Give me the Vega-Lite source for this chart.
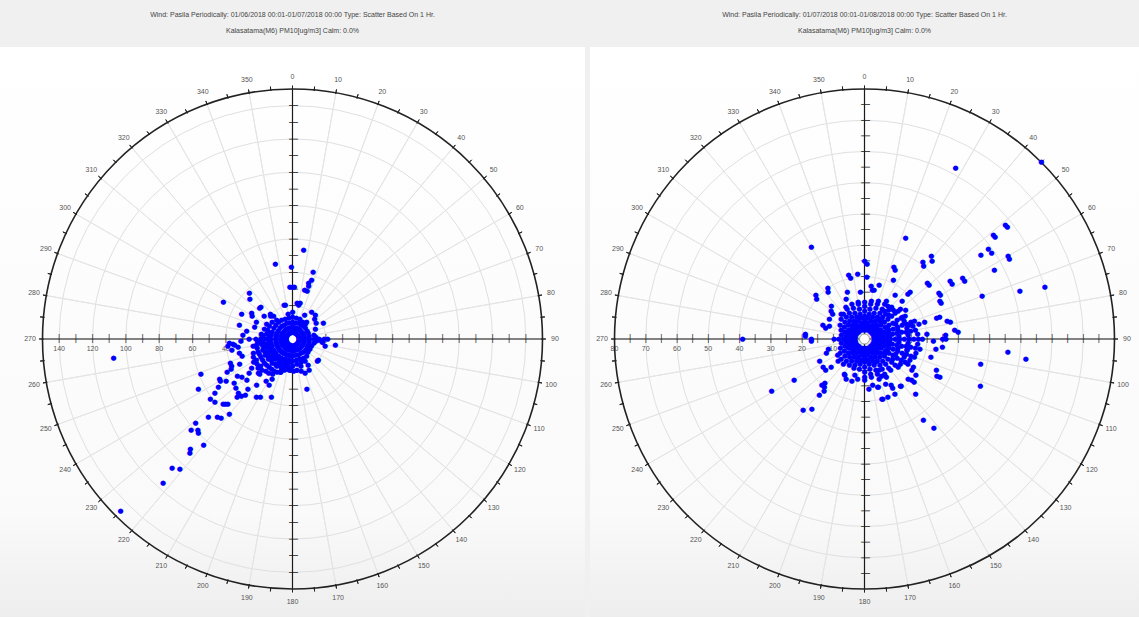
{
"$schema": "https://vega.github.io/schema/vega-lite/v6.json",
"background": "#f0f0f0",
"padding": {"top": 11, "left": 0, "right": 0, "bottom": 0},
"spacing": 5,
"resolve": {"scale": {"theta": "independent", "radius": "independent"}},
"config": {
 "view": {"stroke": null},
 "text": {"font": "Liberation Sans"},
 "title": {"font": "Liberation Sans", "fontSize": 7, "fontWeight": "normal", "color": "#444444", "lineHeight": 16, "offset": 13, "anchor": "middle"}
},
"datasets": {
 "spokes": [{"a":0},{"a":10},{"a":20},{"a":30},{"a":40},{"a":50},{"a":60},{"a":70},{"a":80},{"a":90},{"a":100},{"a":110},{"a":120},{"a":130},{"a":140},{"a":150},{"a":160},{"a":170},{"a":180},{"a":190},{"a":200},{"a":210},{"a":220},{"a":230},{"a":240},{"a":250},{"a":260},{"a":270},{"a":280},{"a":290},{"a":300},{"a":310},{"a":320},{"a":330},{"a":340},{"a":350}],
 "outerTicks": [{"t":0},{"t":5},{"t":10},{"t":15},{"t":20},{"t":25},{"t":30},{"t":35},{"t":40},{"t":45},{"t":50},{"t":55},{"t":60},{"t":65},{"t":70},{"t":75},{"t":80},{"t":85},{"t":90},{"t":95},{"t":100},{"t":105},{"t":110},{"t":115},{"t":120},{"t":125},{"t":130},{"t":135},{"t":140},{"t":145},{"t":150},{"t":155},{"t":160},{"t":165},{"t":170},{"t":175},{"t":180},{"t":185},{"t":190},{"t":195},{"t":200},{"t":205},{"t":210},{"t":215},{"t":220},{"t":225},{"t":230},{"t":235},{"t":240},{"t":245},{"t":250},{"t":255},{"t":260},{"t":265},{"t":270},{"t":275},{"t":280},{"t":285},{"t":290},{"t":295},{"t":300},{"t":305},{"t":310},{"t":315},{"t":320},{"t":325},{"t":330},{"t":335},{"t":340},{"t":345},{"t":350},{"t":355}],
 "crossAxes": [{"a":0},{"a":90},{"a":180},{"a":270}],
 "ringsL": [{"r":20},{"r":40},{"r":60},{"r":80},{"r":100},{"r":120},{"r":140}],
 "ringsR": [{"r":10},{"r":20},{"r":30},{"r":40},{"r":50},{"r":60},{"r":70}],
 "axTicksL": [{"r":-140},{"r":-130},{"r":-120},{"r":-110},{"r":-100},{"r":-90},{"r":-80},{"r":-70},{"r":-60},{"r":-50},{"r":-40},{"r":-30},{"r":-20},{"r":-10},{"r":10},{"r":20},{"r":30},{"r":40},{"r":50},{"r":60},{"r":70},{"r":80},{"r":90},{"r":100},{"r":110},{"r":120},{"r":130},{"r":140}],
 "axTicksR": [{"r":-75},{"r":-70},{"r":-65},{"r":-60},{"r":-55},{"r":-50},{"r":-45},{"r":-40},{"r":-35},{"r":-30},{"r":-25},{"r":-20},{"r":-15},{"r":-10},{"r":-5},{"r":5},{"r":10},{"r":15},{"r":20},{"r":25},{"r":30},{"r":35},{"r":40},{"r":45},{"r":50},{"r":55},{"r":60},{"r":65},{"r":70},{"r":75}],
 "axLabL": [{"r":20},{"r":40},{"r":60},{"r":80},{"r":100},{"r":120},{"r":140}],
 "axLabR": [{"r":10},{"r":20},{"r":30},{"r":40},{"r":50},{"r":60},{"r":70},{"r":80}],
 "L": [
 {"d":0,"v":4},{"d":0,"v":7},{"d":0,"v":10},{"d":0,"v":13},{"d":0,"v":16},
 {"d":10,"v":4},{"d":10,"v":7},{"d":10,"v":10},{"d":10,"v":13},
 {"d":20,"v":4},{"d":20,"v":7},{"d":20,"v":10},{"d":20,"v":13},
 {"d":30,"v":4},{"d":30,"v":7},{"d":30,"v":10},{"d":30,"v":12},
 {"d":40,"v":4},{"d":40,"v":7},{"d":40,"v":10},{"d":40,"v":12},
 {"d":50,"v":4},{"d":50,"v":7},{"d":50,"v":10},
 {"d":60,"v":4},{"d":60,"v":7},{"d":60,"v":10},
 {"d":70,"v":4},{"d":70,"v":7},{"d":70,"v":10},
 {"d":80,"v":4},{"d":80,"v":7},{"d":80,"v":10},{"d":80,"v":13},
 {"d":90,"v":4},{"d":90,"v":7},{"d":90,"v":10},{"d":90,"v":13},{"d":90,"v":16},{"d":90,"v":19},{"d":90,"v":21},
 {"d":100,"v":4},{"d":100,"v":7},{"d":100,"v":10},{"d":100,"v":13},
 {"d":110,"v":4},{"d":110,"v":7},{"d":110,"v":10},{"d":110,"v":12},
 {"d":120,"v":4},{"d":120,"v":7},{"d":120,"v":10},{"d":120,"v":12},
 {"d":130,"v":4},{"d":130,"v":7},{"d":130,"v":10},{"d":130,"v":12},
 {"d":140,"v":4},{"d":140,"v":7},{"d":140,"v":10},{"d":140,"v":13},
 {"d":150,"v":4},{"d":150,"v":7},{"d":150,"v":10},{"d":150,"v":13},{"d":150,"v":15},
 {"d":160,"v":4},{"d":160,"v":7},{"d":160,"v":10},{"d":160,"v":13},{"d":160,"v":15},
 {"d":170,"v":4},{"d":170,"v":7},{"d":170,"v":10},{"d":170,"v":13},{"d":170,"v":15},
 {"d":180,"v":4},{"d":180,"v":7},{"d":180,"v":10},{"d":180,"v":13},{"d":180,"v":16},
 {"d":190,"v":4},{"d":190,"v":7},{"d":190,"v":10},{"d":190,"v":13},{"d":190,"v":16},{"d":190,"v":18},
 {"d":200,"v":4},{"d":200,"v":7},{"d":200,"v":10},{"d":200,"v":13},{"d":200,"v":16},{"d":200,"v":19},{"d":200,"v":21},
 {"d":210,"v":4},{"d":210,"v":7},{"d":210,"v":10},{"d":210,"v":13},{"d":210,"v":16},{"d":210,"v":19},{"d":210,"v":22},{"d":210,"v":24},
 {"d":220,"v":4},{"d":220,"v":7},{"d":220,"v":10},{"d":220,"v":13},{"d":220,"v":16},{"d":220,"v":19},{"d":220,"v":22},{"d":220,"v":25},
 {"d":230,"v":4},{"d":230,"v":7},{"d":230,"v":10},{"d":230,"v":13},{"d":230,"v":16},{"d":230,"v":19},{"d":230,"v":22},{"d":230,"v":25},{"d":230,"v":27},
 {"d":240,"v":4},{"d":240,"v":7},{"d":240,"v":10},{"d":240,"v":13},{"d":240,"v":16},{"d":240,"v":19},{"d":240,"v":22},{"d":240,"v":25},{"d":240,"v":27},
 {"d":250,"v":4},{"d":250,"v":7},{"d":250,"v":10},{"d":250,"v":13},{"d":250,"v":16},{"d":250,"v":19},{"d":250,"v":22},{"d":250,"v":25},
 {"d":260,"v":4},{"d":260,"v":7},{"d":260,"v":10},{"d":260,"v":13},{"d":260,"v":16},{"d":260,"v":19},{"d":260,"v":22},{"d":260,"v":24},
 {"d":270,"v":4},{"d":270,"v":7},{"d":270,"v":10},{"d":270,"v":13},{"d":270,"v":16},{"d":270,"v":19},{"d":270,"v":22},
 {"d":280,"v":4},{"d":280,"v":7},{"d":280,"v":10},{"d":280,"v":13},{"d":280,"v":16},{"d":280,"v":19},
 {"d":290,"v":4},{"d":290,"v":7},{"d":290,"v":10},{"d":290,"v":13},{"d":290,"v":16},{"d":290,"v":18},
 {"d":300,"v":4},{"d":300,"v":7},{"d":300,"v":10},{"d":300,"v":13},{"d":300,"v":16},{"d":300,"v":18},
 {"d":310,"v":4},{"d":310,"v":7},{"d":310,"v":10},{"d":310,"v":13},{"d":310,"v":16},
 {"d":320,"v":4},{"d":320,"v":7},{"d":320,"v":10},{"d":320,"v":13},{"d":320,"v":15},
 {"d":330,"v":4},{"d":330,"v":7},{"d":330,"v":10},{"d":330,"v":13},
 {"d":340,"v":4},{"d":340,"v":7},{"d":340,"v":10},{"d":340,"v":13},
 {"d":350,"v":4},{"d":350,"v":7},{"d":350,"v":10},{"d":350,"v":13},{"d":350,"v":15},
 {"d":185,"v":6},{"d":185,"v":10},{"d":185,"v":14},
 {"d":195,"v":6},{"d":195,"v":10},{"d":195,"v":14},{"d":195,"v":17},
 {"d":205,"v":6},{"d":205,"v":10},{"d":205,"v":14},{"d":205,"v":18},{"d":205,"v":22},
 {"d":215,"v":6},{"d":215,"v":10},{"d":215,"v":14},{"d":215,"v":18},{"d":215,"v":22},{"d":215,"v":25},
 {"d":225,"v":6},{"d":225,"v":10},{"d":225,"v":14},{"d":225,"v":18},{"d":225,"v":22},{"d":225,"v":26},{"d":225,"v":29},
 {"d":235,"v":6},{"d":235,"v":10},{"d":235,"v":14},{"d":235,"v":18},{"d":235,"v":22},{"d":235,"v":26},{"d":235,"v":30},
 {"d":245,"v":6},{"d":245,"v":10},{"d":245,"v":14},{"d":245,"v":18},{"d":245,"v":22},{"d":245,"v":26},
 {"d":255,"v":6},{"d":255,"v":10},{"d":255,"v":14},{"d":255,"v":18},{"d":255,"v":22},
 {"d":265,"v":6},{"d":265,"v":10},{"d":265,"v":14},{"d":265,"v":18},{"d":265,"v":21},
 {"d":275,"v":6},{"d":275,"v":10},{"d":275,"v":14},{"d":275,"v":18},
 {"d":285,"v":6},{"d":285,"v":10},{"d":285,"v":14},
 {"d":95,"v":6},{"d":95,"v":10},{"d":95,"v":14},{"d":95,"v":18},
 {"d":85,"v":6},{"d":85,"v":10},{"d":85,"v":14},
 {"d":264,"v":108},{"d":225,"v":146},{"d":222,"v":116},{"d":223,"v":106},{"d":221,"v":103},{"d":222,"v":92},{"d":223,"v":90},{"d":220,"v":83},{"d":228,"v":82},{"d":226,"v":79},{"d":225,"v":80},{"d":229,"v":77},{"d":227,"v":69},{"d":224,"v":65},{"d":222,"v":64},{"d":220,"v":59},{"d":242,"v":64},{"d":249,"v":59},{"d":234,"v":61},{"d":235,"v":57},{"d":240,"v":50},{"d":237,"v":53},{"d":231,"v":60},{"d":226,"v":56},{"d":225,"v":55},{"d":227,"v":57},{"d":229,"v":45},{"d":225,"v":46},{"d":220,"v":44},{"d":244,"v":41},{"d":249,"v":40},{"d":245,"v":35},{"d":233,"v":38},{"d":266,"v":38},{"d":265,"v":36},{"d":262,"v":33},{"d":260,"v":37},{"d":270,"v":26},
 {"d":7,"v":54},{"d":347,"v":46},{"d":359,"v":43},{"d":17,"v":42},{"d":18,"v":37},{"d":17,"v":33},{"d":17,"v":30},{"d":16,"v":35},{"d":357,"v":31},{"d":0,"v":31},{"d":2,"v":31},{"d":14,"v":30},{"d":346,"v":21},{"d":7,"v":22},{"d":10,"v":21},{"d":12,"v":22},{"d":348,"v":21},{"d":317,"v":38},{"d":298,"v":47},{"d":313,"v":35},{"d":315,"v":27},{"d":318,"v":20},{"d":35,"v":20},{"d":62,"v":21},{"d":56,"v":17},{"d":43,"v":20},{"d":66,"v":15},{"d":47,"v":18},{"d":27,"v":16},{"d":40,"v":13},{"d":98,"v":26},{"d":102,"v":20},{"d":95,"v":18},{"d":92,"v":16},{"d":129,"v":20},{"d":132,"v":20},{"d":164,"v":31},{"d":149,"v":18},{"d":152,"v":21},{"d":163,"v":17},{"d":184,"v":18},{"d":160,"v":22},{"d":165,"v":20},{"d":172,"v":19},{"d":178,"v":19},{"d":186,"v":19},{"d":195,"v":19},{"d":200,"v":21},{"d":207,"v":27},{"d":207,"v":31},{"d":223,"v":29},{"d":246,"v":40},{"d":241,"v":50},{"d":251,"v":32},{"d":264,"v":35},{"d":264,"v":39},{"d":268,"v":31},{"d":228,"v":37},{"d":222,"v":40},{"d":212,"v":41},{"d":224,"v":48},{"d":222,"v":46},{"d":200,"v":37},{"d":209,"v":40},{"d":302,"v":29},{"d":296,"v":34},{"d":313,"v":27},{"d":300,"v":28},{"d":295,"v":24},{"d":288,"v":24},{"d":316,"v":19},{"d":321,"v":18},{"d":309,"v":22},{"d":280,"v":28},{"d":275,"v":30},{"d":285,"v":33},{"d":255,"v":33},{"d":233,"v":44},{"d":238,"v":47},{"d":243,"v":44},{"d":218,"v":35},{"d":212,"v":30},{"d":236,"v":40},{"d":232,"v":33}
 ],
 "R": [
 {"d":0,"v":3},{"d":0,"v":4.5},{"d":0,"v":6},{"d":0,"v":7.5},{"d":0,"v":9},{"d":0,"v":10.5},{"d":0,"v":12},
 {"d":10,"v":3.75},{"d":10,"v":5.25},{"d":10,"v":6.75},{"d":10,"v":8.25},{"d":10,"v":9.75},{"d":10,"v":11.25},{"d":10,"v":12.5},
 {"d":20,"v":3},{"d":20,"v":4.5},{"d":20,"v":6},{"d":20,"v":7.5},{"d":20,"v":9},{"d":20,"v":10.5},{"d":20,"v":12},{"d":20,"v":13},
 {"d":30,"v":3.75},{"d":30,"v":5.25},{"d":30,"v":6.75},{"d":30,"v":8.25},{"d":30,"v":9.75},{"d":30,"v":11.25},{"d":30,"v":12.75},{"d":30,"v":14},
 {"d":40,"v":3},{"d":40,"v":4.5},{"d":40,"v":6},{"d":40,"v":7.5},{"d":40,"v":9},{"d":40,"v":10.5},{"d":40,"v":12},{"d":40,"v":13.5},
 {"d":50,"v":3.75},{"d":50,"v":5.25},{"d":50,"v":6.75},{"d":50,"v":8.25},{"d":50,"v":9.75},{"d":50,"v":11.25},{"d":50,"v":12.75},{"d":50,"v":14},
 {"d":60,"v":3},{"d":60,"v":4.5},{"d":60,"v":6},{"d":60,"v":7.5},{"d":60,"v":9},{"d":60,"v":10.5},{"d":60,"v":12},{"d":60,"v":13.5},{"d":60,"v":15},
 {"d":70,"v":3.75},{"d":70,"v":5.25},{"d":70,"v":6.75},{"d":70,"v":8.25},{"d":70,"v":9.75},{"d":70,"v":11.25},{"d":70,"v":12.75},{"d":70,"v":14.25},{"d":70,"v":15.75},
 {"d":80,"v":3},{"d":80,"v":4.5},{"d":80,"v":6},{"d":80,"v":7.5},{"d":80,"v":9},{"d":80,"v":10.5},{"d":80,"v":12},{"d":80,"v":13.5},{"d":80,"v":15},{"d":80,"v":16.5},
 {"d":90,"v":3.75},{"d":90,"v":5.25},{"d":90,"v":6.75},{"d":90,"v":8.25},{"d":90,"v":9.75},{"d":90,"v":11.25},{"d":90,"v":12.75},{"d":90,"v":14.25},{"d":90,"v":15.75},{"d":90,"v":17.25},{"d":90,"v":18.5},
 {"d":100,"v":3},{"d":100,"v":4.5},{"d":100,"v":6},{"d":100,"v":7.5},{"d":100,"v":9},{"d":100,"v":10.5},{"d":100,"v":12},{"d":100,"v":13.5},{"d":100,"v":15},{"d":100,"v":16.5},{"d":100,"v":18},
 {"d":110,"v":3.75},{"d":110,"v":5.25},{"d":110,"v":6.75},{"d":110,"v":8.25},{"d":110,"v":9.75},{"d":110,"v":11.25},{"d":110,"v":12.75},{"d":110,"v":14.25},{"d":110,"v":15.75},{"d":110,"v":17},
 {"d":120,"v":3},{"d":120,"v":4.5},{"d":120,"v":6},{"d":120,"v":7.5},{"d":120,"v":9},{"d":120,"v":10.5},{"d":120,"v":12},{"d":120,"v":13.5},{"d":120,"v":15},{"d":120,"v":16},
 {"d":130,"v":3.75},{"d":130,"v":5.25},{"d":130,"v":6.75},{"d":130,"v":8.25},{"d":130,"v":9.75},{"d":130,"v":11.25},{"d":130,"v":12.75},{"d":130,"v":14},
 {"d":140,"v":3},{"d":140,"v":4.5},{"d":140,"v":6},{"d":140,"v":7.5},{"d":140,"v":9},{"d":140,"v":10.5},{"d":140,"v":12},{"d":140,"v":13},
 {"d":150,"v":3.75},{"d":150,"v":5.25},{"d":150,"v":6.75},{"d":150,"v":8.25},{"d":150,"v":9.75},{"d":150,"v":11.25},{"d":150,"v":12.75},{"d":150,"v":14},
 {"d":160,"v":3},{"d":160,"v":4.5},{"d":160,"v":6},{"d":160,"v":7.5},{"d":160,"v":9},{"d":160,"v":10.5},{"d":160,"v":12},{"d":160,"v":13.5},
 {"d":170,"v":3.75},{"d":170,"v":5.25},{"d":170,"v":6.75},{"d":170,"v":8.25},{"d":170,"v":9.75},{"d":170,"v":11.25},{"d":170,"v":12.5},
 {"d":180,"v":3},{"d":180,"v":4.5},{"d":180,"v":6},{"d":180,"v":7.5},{"d":180,"v":9},{"d":180,"v":10.5},{"d":180,"v":12},
 {"d":190,"v":3.75},{"d":190,"v":5.25},{"d":190,"v":6.75},{"d":190,"v":8.25},{"d":190,"v":9.75},
 {"d":200,"v":3},{"d":200,"v":4.5},{"d":200,"v":6},{"d":200,"v":7.5},{"d":200,"v":9},{"d":200,"v":10},
 {"d":210,"v":3.75},{"d":210,"v":5.25},{"d":210,"v":6.75},{"d":210,"v":8.25},{"d":210,"v":9.75},
 {"d":220,"v":3},{"d":220,"v":4.5},{"d":220,"v":6},{"d":220,"v":7.5},{"d":220,"v":9},{"d":220,"v":10.5},
 {"d":230,"v":3.75},{"d":230,"v":5.25},{"d":230,"v":6.75},{"d":230,"v":8.25},{"d":230,"v":9.75},{"d":230,"v":11},
 {"d":240,"v":3},{"d":240,"v":4.5},{"d":240,"v":6},{"d":240,"v":7.5},{"d":240,"v":9},{"d":240,"v":10},
 {"d":250,"v":3.75},{"d":250,"v":5.25},{"d":250,"v":6.75},{"d":250,"v":8.25},
 {"d":260,"v":3},{"d":260,"v":4.5},{"d":260,"v":6},{"d":260,"v":7.5},
 {"d":270,"v":3.75},{"d":270,"v":5.25},{"d":270,"v":6.75},{"d":270,"v":8.25},{"d":270,"v":9.75},
 {"d":280,"v":3},{"d":280,"v":4.5},{"d":280,"v":6},{"d":280,"v":7.5},
 {"d":290,"v":3.75},{"d":290,"v":5.25},{"d":290,"v":6.75},{"d":290,"v":8},
 {"d":300,"v":3},{"d":300,"v":4.5},{"d":300,"v":6},{"d":300,"v":7.5},{"d":300,"v":9},
 {"d":310,"v":3.75},{"d":310,"v":5.25},{"d":310,"v":6.75},{"d":310,"v":8.25},{"d":310,"v":9.75},
 {"d":320,"v":3},{"d":320,"v":4.5},{"d":320,"v":6},{"d":320,"v":7.5},{"d":320,"v":9},{"d":320,"v":10.5},
 {"d":330,"v":3.75},{"d":330,"v":5.25},{"d":330,"v":6.75},{"d":330,"v":8.25},{"d":330,"v":9.75},{"d":330,"v":11.25},{"d":330,"v":12},
 {"d":340,"v":3},{"d":340,"v":4.5},{"d":340,"v":6},{"d":340,"v":7.5},{"d":340,"v":9},{"d":340,"v":10.5},{"d":340,"v":12},
 {"d":350,"v":3.75},{"d":350,"v":5.25},{"d":350,"v":6.75},{"d":350,"v":8.25},{"d":350,"v":9.75},{"d":350,"v":11.25},{"d":350,"v":12},
 {"d":65,"v":5},{"d":65,"v":8},{"d":65,"v":11},{"d":65,"v":14},
 {"d":75,"v":5},{"d":75,"v":8},{"d":75,"v":11},{"d":75,"v":14},{"d":75,"v":16},
 {"d":85,"v":5},{"d":85,"v":8},{"d":85,"v":11},{"d":85,"v":14},{"d":85,"v":17},
 {"d":95,"v":5},{"d":95,"v":8},{"d":95,"v":11},{"d":95,"v":14},{"d":95,"v":17},
 {"d":105,"v":5},{"d":105,"v":8},{"d":105,"v":11},{"d":105,"v":14},{"d":105,"v":17},
 {"d":115,"v":5},{"d":115,"v":8},{"d":115,"v":11},{"d":115,"v":14},{"d":115,"v":16},
 {"d":125,"v":5},{"d":125,"v":8},{"d":125,"v":11},{"d":125,"v":14},
 {"d":35,"v":8},{"d":35,"v":11},{"d":35,"v":13},
 {"d":45,"v":8},{"d":45,"v":11},{"d":45,"v":13},
 {"d":155,"v":8},{"d":155,"v":11},{"d":155,"v":13},
 {"d":45,"v":80},{"d":28,"v":62},{"d":52,"v":58},{"d":52,"v":53},{"d":61,"v":53},{"d":54,"v":46},{"d":56,"v":49},{"d":62,"v":47},{"d":74,"v":60},{"d":73,"v":52},{"d":70,"v":40},{"d":22,"v":35},{"d":330,"v":34},{"d":41,"v":33},{"d":39,"v":30},{"d":24,"v":24},{"d":60,"v":37},{"d":58,"v":33},{"d":50,"v":27},{"d":60,"v":28},{"d":65,"v":27},{"d":44,"v":20},{"d":44,"v":21},{"d":86,"v":30},{"d":79,"v":28},{"d":74,"v":25},{"d":74,"v":24},{"d":95,"v":46},{"d":97,"v":52},{"d":102,"v":38},{"d":112,"v":40},{"d":96,"v":25},{"d":113,"v":25},{"d":117,"v":27},{"d":144,"v":32},{"d":142,"v":36},{"d":137,"v":24},{"d":131,"v":21},{"d":142,"v":19},{"d":163,"v":20},{"d":158,"v":20},{"d":151,"v":20},{"d":164,"v":16},{"d":180,"v":13},{"d":221,"v":30},{"d":241,"v":34},{"d":240,"v":26},{"d":219,"v":23},{"d":220,"v":20},{"d":222,"v":19},{"d":218,"v":21},{"d":270,"v":39},{"d":273,"v":19},{"d":268,"v":17},{"d":286,"v":13},{"d":310,"v":20},{"d":322,"v":19},{"d":308,"v":13},{"d":347,"v":20},{"d":354,"v":21},{"d":2,"v":24},{"d":2,"v":20},{"d":9,"v":16},{"d":7,"v":17},{"d":11,"v":16},{"d":90,"v":26},{"d":90,"v":25},{"d":74,"v":20},{"d":26,"v":21},{"d":50,"v":15},{"d":55,"v":16},{"d":45,"v":17},{"d":60,"v":14},{"d":72,"v":15},{"d":75,"v":18},{"d":70,"v":17},{"d":85,"v":20},{"d":92,"v":22},{"d":98,"v":23},{"d":105,"v":22},{"d":120,"v":18},{"d":125,"v":20},{"d":150,"v":17},{"d":155,"v":16},{"d":170,"v":15},{"d":175,"v":16},{"d":195,"v":12},{"d":205,"v":14},{"d":210,"v":13},{"d":230,"v":14},{"d":250,"v":13},{"d":255,"v":12},{"d":290,"v":12},{"d":300,"v":13},{"d":315,"v":15},{"d":335,"v":14},{"d":340,"v":16},{"d":355,"v":15},{"d":15,"v":18},{"d":35,"v":17},{"d":217,"v":28},{"d":223,"v":20},{"d":60,"v":53},{"d":54,"v":49},{"d":51,"v":53},{"d":51,"v":58},{"d":58,"v":37},{"d":56,"v":33},{"d":39,"v":34},{"d":37,"v":31},{"d":22,"v":25},{"d":48,"v":27},{"d":58,"v":28},{"d":63,"v":27},{"d":78,"v":27},{"d":84,"v":29},{"d":87,"v":26},{"d":117,"v":26},{"d":131,"v":20},{"d":143,"v":19},{"d":164,"v":20},{"d":123,"v":18},{"d":104,"v":14},{"d":346,"v":21},{"d":0,"v":25},{"d":324,"v":20},{"d":312,"v":21},{"d":310,"v":14},{"d":317,"v":11},{"d":288,"v":14},{"d":275,"v":19},{"d":270,"v":17},{"d":244,"v":16},{"d":236,"v":16},{"d":231,"v":16},{"d":209,"v":13},{"d":197,"v":14},{"d":190,"v":13},{"d":165,"v":16},{"d":150,"v":18},{"d":133,"v":19}
 ]
},
"hconcat": [
 {
  "width": 585, "height": 584,
  "view": {"stroke": null, "fill": {"gradient": "linear", "x1": 0, "y1": 0, "x2": 0, "y2": 1, "stops": [{"offset": 0, "color": "#ffffff"}, {"offset": 0.8, "color": "#fafafa"}, {"offset": 1, "color": "#ececec"}]}},
  "title": {"text": ["Wind: Pasila  Periodically: 01/06/2018 00:01-01/07/2018 00:00  Type: Scatter Based On 1 Hr.", "Kalasatama(M6) PM10[ug/m3]   Calm: 0.0%"]},
  "layer": [
   {"data": {"name": "ringsL"}, "mark": {"type": "arc", "theta": 0, "theta2": 6.2832, "fill": null, "stroke": "#e0e0e0", "strokeWidth": 1},
    "encoding": {"radius": {"field": "r", "type": "quantitative", "stack": null, "scale": {"type": "linear", "domain": [0, 150], "range": [0, 250]}}}},
   {"data": {"name": "spokes"}, "mark": {"type": "arc", "fill": null, "stroke": "#e4e4e4", "strokeWidth": 1},
    "encoding": {"theta": {"field": "a", "type": "quantitative", "stack": null, "scale": {"type": "linear", "domain": [0, 360], "range": [0, 6.283185307]}}, "theta2": {"field": "a"},
     "radius": {"datum": 150, "type": "quantitative", "stack": null, "scale": {"type": "linear", "domain": [0, 150], "range": [0, 250]}}}},
   {"data": {"name": "crossAxes"}, "mark": {"type": "arc", "fill": null, "stroke": "#1a1a1a", "strokeWidth": 1.2},
    "encoding": {"theta": {"field": "a", "type": "quantitative", "stack": null, "scale": {"type": "linear", "domain": [0, 360], "range": [0, 6.283185307]}}, "theta2": {"field": "a"},
     "radius": {"datum": 150, "type": "quantitative", "stack": null, "scale": {"type": "linear", "domain": [0, 150], "range": [0, 250]}}}},
   {"data": {"name": "axTicksL"}, "mark": {"type": "text", "text": "|", "fontSize": 8, "color": "#1a1a1a", "baseline": "middle", "font": "DejaVu Sans"},
    "encoding": {"theta": {"datum": 90, "type": "quantitative", "stack": null, "scale": {"type": "linear", "domain": [0, 360], "range": [0, 6.283185307]}},
     "radius": {"field": "r", "type": "quantitative", "stack": null, "scale": {"type": "linear", "domain": [0, 150], "range": [0, 250]}}}},
   {"data": {"name": "axTicksL"}, "mark": {"type": "text", "text": "|", "fontSize": 8, "angle": 90, "color": "#1a1a1a", "baseline": "middle", "font": "DejaVu Sans"},
    "encoding": {"theta": {"datum": 0, "type": "quantitative", "stack": null, "scale": {"type": "linear", "domain": [0, 360], "range": [0, 6.283185307]}},
     "radius": {"field": "r", "type": "quantitative", "stack": null, "scale": {"type": "linear", "domain": [0, 150], "range": [0, 250]}}}},
   {"data": {"name": "axLabL"}, "mark": {"type": "text", "fontSize": 7, "color": "#555555", "dy": 10},
    "encoding": {"theta": {"datum": 270, "type": "quantitative", "stack": null, "scale": {"type": "linear", "domain": [0, 360], "range": [0, 6.283185307]}},
     "radius": {"field": "r", "type": "quantitative", "stack": null, "scale": {"type": "linear", "domain": [0, 150], "range": [0, 250]}}, "text": {"field": "r", "type": "quantitative"}}},
   {"data": {"values": [{"c": 1}]}, "mark": {"type": "arc", "theta": 0, "theta2": 6.2832, "fill": null, "stroke": "#222222", "strokeWidth": 1.6},
    "encoding": {"radius": {"datum": 150, "type": "quantitative", "stack": null, "scale": {"type": "linear", "domain": [0, 150], "range": [0, 250]}}}},
   {"data": {"name": "outerTicks"}, "mark": {"type": "arc", "fill": null, "stroke": "#222222", "strokeWidth": 1},
    "encoding": {"theta": {"field": "t", "type": "quantitative", "stack": null, "scale": {"type": "linear", "domain": [0, 360], "range": [0, 6.283185307]}}, "theta2": {"field": "t"},
     "radius": {"datum": 149.4, "type": "quantitative", "stack": null, "scale": {"type": "linear", "domain": [0, 150], "range": [0, 250]}}, "radius2": {"datum": 152}}},
   {"data": {"name": "spokes"}, "mark": {"type": "text", "fontSize": 7, "color": "#555555", "baseline": "middle"},
    "encoding": {"theta": {"field": "a", "type": "quantitative", "stack": null, "scale": {"type": "linear", "domain": [0, 360], "range": [0, 6.283185307]}},
     "radius": {"datum": 157.5, "type": "quantitative", "stack": null, "scale": {"type": "linear", "domain": [0, 150], "range": [0, 250]}}, "text": {"field": "a", "type": "quantitative"}}},
   {"data": {"values": [{"c": 1}]}, "mark": {"type": "arc", "theta": 0, "theta2": 6.2832, "fill": "#ffffff", "stroke": "#999999", "strokeWidth": 1},
    "encoding": {"radius": {"datum": 3, "type": "quantitative", "stack": null, "scale": {"type": "linear", "domain": [0, 150], "range": [0, 250]}}}},
   {"data": {"name": "L"}, "mark": {"type": "text", "text": "●", "fontSize": 7, "color": "#0000ff", "baseline": "middle", "font": "DejaVu Sans"},
    "encoding": {"theta": {"field": "d", "type": "quantitative", "stack": null, "scale": {"type": "linear", "domain": [0, 360], "range": [0, 6.283185307]}},
     "radius": {"field": "v", "type": "quantitative", "stack": null, "scale": {"type": "linear", "domain": [0, 150], "range": [0, 250]}}}}
  ]
 },
 {
  "width": 549, "height": 584,
  "view": {"stroke": null, "fill": {"gradient": "linear", "x1": 0, "y1": 0, "x2": 0, "y2": 1, "stops": [{"offset": 0, "color": "#ffffff"}, {"offset": 0.8, "color": "#fafafa"}, {"offset": 1, "color": "#ececec"}]}},
  "title": {"text": ["Wind: Pasila  Periodically: 01/07/2018 00:01-01/08/2018 00:00  Type: Scatter Based On 1 Hr.", "Kalasatama(M6) PM10[ug/m3]   Calm: 0.0%"]},
  "layer": [
   {"data": {"name": "ringsR"}, "mark": {"type": "arc", "theta": 0, "theta2": 6.2832, "fill": null, "stroke": "#e0e0e0", "strokeWidth": 1},
    "encoding": {"radius": {"field": "r", "type": "quantitative", "stack": null, "scale": {"type": "linear", "domain": [0, 80], "range": [0, 250]}}}},
   {"data": {"name": "spokes"}, "mark": {"type": "arc", "fill": null, "stroke": "#e4e4e4", "strokeWidth": 1},
    "encoding": {"theta": {"field": "a", "type": "quantitative", "stack": null, "scale": {"type": "linear", "domain": [0, 360], "range": [0, 6.283185307]}}, "theta2": {"field": "a"},
     "radius": {"datum": 80, "type": "quantitative", "stack": null, "scale": {"type": "linear", "domain": [0, 80], "range": [0, 250]}}}},
   {"data": {"name": "crossAxes"}, "mark": {"type": "arc", "fill": null, "stroke": "#1a1a1a", "strokeWidth": 1.2},
    "encoding": {"theta": {"field": "a", "type": "quantitative", "stack": null, "scale": {"type": "linear", "domain": [0, 360], "range": [0, 6.283185307]}}, "theta2": {"field": "a"},
     "radius": {"datum": 80, "type": "quantitative", "stack": null, "scale": {"type": "linear", "domain": [0, 80], "range": [0, 250]}}}},
   {"data": {"name": "axTicksR"}, "mark": {"type": "text", "text": "|", "fontSize": 8, "color": "#1a1a1a", "baseline": "middle", "font": "DejaVu Sans"},
    "encoding": {"theta": {"datum": 90, "type": "quantitative", "stack": null, "scale": {"type": "linear", "domain": [0, 360], "range": [0, 6.283185307]}},
     "radius": {"field": "r", "type": "quantitative", "stack": null, "scale": {"type": "linear", "domain": [0, 80], "range": [0, 250]}}}},
   {"data": {"name": "axTicksR"}, "mark": {"type": "text", "text": "|", "fontSize": 8, "angle": 90, "color": "#1a1a1a", "baseline": "middle", "font": "DejaVu Sans"},
    "encoding": {"theta": {"datum": 0, "type": "quantitative", "stack": null, "scale": {"type": "linear", "domain": [0, 360], "range": [0, 6.283185307]}},
     "radius": {"field": "r", "type": "quantitative", "stack": null, "scale": {"type": "linear", "domain": [0, 80], "range": [0, 250]}}}},
   {"data": {"name": "axLabR"}, "mark": {"type": "text", "fontSize": 7, "color": "#555555", "dy": 10},
    "encoding": {"theta": {"datum": 270, "type": "quantitative", "stack": null, "scale": {"type": "linear", "domain": [0, 360], "range": [0, 6.283185307]}},
     "radius": {"field": "r", "type": "quantitative", "stack": null, "scale": {"type": "linear", "domain": [0, 80], "range": [0, 250]}}, "text": {"field": "r", "type": "quantitative"}}},
   {"data": {"values": [{"c": 1}]}, "mark": {"type": "arc", "theta": 0, "theta2": 6.2832, "fill": null, "stroke": "#222222", "strokeWidth": 1.6},
    "encoding": {"radius": {"datum": 80, "type": "quantitative", "stack": null, "scale": {"type": "linear", "domain": [0, 80], "range": [0, 250]}}}},
   {"data": {"name": "outerTicks"}, "mark": {"type": "arc", "fill": null, "stroke": "#222222", "strokeWidth": 1},
    "encoding": {"theta": {"field": "t", "type": "quantitative", "stack": null, "scale": {"type": "linear", "domain": [0, 360], "range": [0, 6.283185307]}}, "theta2": {"field": "t"},
     "radius": {"datum": 79.7, "type": "quantitative", "stack": null, "scale": {"type": "linear", "domain": [0, 80], "range": [0, 250]}}, "radius2": {"datum": 81.1}}},
   {"data": {"name": "spokes"}, "mark": {"type": "text", "fontSize": 7, "color": "#555555", "baseline": "middle"},
    "encoding": {"theta": {"field": "a", "type": "quantitative", "stack": null, "scale": {"type": "linear", "domain": [0, 360], "range": [0, 6.283185307]}},
     "radius": {"datum": 84, "type": "quantitative", "stack": null, "scale": {"type": "linear", "domain": [0, 80], "range": [0, 250]}}, "text": {"field": "a", "type": "quantitative"}}},
   {"data": {"values": [{"c": 1}]}, "mark": {"type": "arc", "theta": 0, "theta2": 6.2832, "fill": "#ffffff", "stroke": "#999999", "strokeWidth": 1},
    "encoding": {"radius": {"datum": 1.6, "type": "quantitative", "stack": null, "scale": {"type": "linear", "domain": [0, 80], "range": [0, 250]}}}},
   {"data": {"name": "R"}, "mark": {"type": "text", "text": "●", "fontSize": 7, "color": "#0000ff", "baseline": "middle", "font": "DejaVu Sans"},
    "encoding": {"theta": {"field": "d", "type": "quantitative", "stack": null, "scale": {"type": "linear", "domain": [0, 360], "range": [0, 6.283185307]}},
     "radius": {"field": "v", "type": "quantitative", "stack": null, "scale": {"type": "linear", "domain": [0, 80], "range": [0, 250]}}}}
  ]
 }
]
}
